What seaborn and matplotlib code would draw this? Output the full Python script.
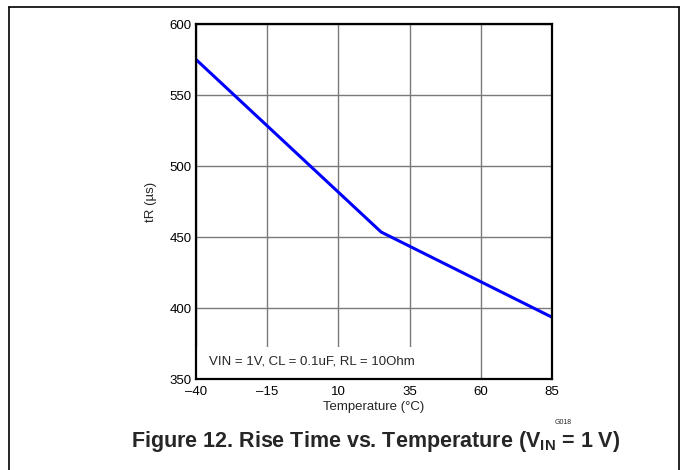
import numpy as np
import pandas as pd
import seaborn as sns
import matplotlib.pyplot as plt
from matplotlib.lines import Line2D
from matplotlib.patches import Rectangle

# data
temperature = [-40, 25, 85]
rise_time = [575, 453.5, 393.5]
x_ticks = [-40, -15, 10, 35, 60, 85]
y_ticks = [350, 400, 450, 500, 550, 600]

df = pd.DataFrame({'Temperature': temperature, 'tR': rise_time})

sns.set_theme(style="white")
plt.rcParams['font.family'] = ['Liberation Sans', 'DejaVu Sans']
plt.rcParams['axes.unicode_minus'] = True
plt.rcParams['mathtext.fontset'] = 'custom'
plt.rcParams['mathtext.rm'] = 'Liberation Sans'
plt.rcParams['mathtext.bf'] = 'Liberation Sans:bold'

fig = plt.figure(figsize=(6.83, 4.70), dpi=100)
ax = fig.add_axes([196 / 683, 91 / 470, 356 / 683, 355 / 470])

ax.set_axisbelow(True)
ax.grid(True, color='#7a7a7a', linewidth=1.0)

# white box behind the conditions text hides the grid
ax.add_patch(Rectangle((0, 0), 0.78, 0.09, transform=ax.transAxes,
                       facecolor='white', edgecolor='none', zorder=1))

sns.lineplot(data=df, x='Temperature', y='tR', ax=ax, color='#0000ff',
             linewidth=2.2, zorder=3)

ax.set_xlim(-40, 85)
ax.set_ylim(350, 600)
ax.set_xticks(x_ticks)
ax.set_yticks(y_ticks)
ax.set_xticklabels([str(t).replace('-', '\u2013') for t in x_ticks])
ax.tick_params(length=0, labelsize=9.5, colors='black')
ax.tick_params(axis='x', pad=5)
ax.tick_params(axis='y', pad=3)
ax.set_xlabel('Temperature (°C)', fontsize=9.5, labelpad=2)
ax.set_ylabel('tR (µs)', fontsize=9.5, labelpad=9)

for s in ax.spines.values():
    s.set_color('black')
    s.set_linewidth(1.6)
    s.set_zorder(4)

ax.text(0.036, 0.05, 'VIN = 1V, CL = 0.1uF, RL = 10Ohm', transform=ax.transAxes,
        fontsize=9.5, va='center', ha='left', zorder=5)

# page frame
fig.add_artist(Line2D([9 / 683, 9 / 683], [0, 1 - 7 / 470], color='black', linewidth=1.2))
fig.add_artist(Line2D([9 / 683, 679 / 683], [1 - 7 / 470, 1 - 7 / 470], color='black', linewidth=1.2))
fig.add_artist(Line2D([679 / 683, 679 / 683], [0, 1 - 7 / 470], color='black', linewidth=1.2))

fig.text(563 / 683, 1 - 422 / 470, 'G018', fontsize=5, ha='center', va='center')
fig.text(376 / 683, 1 - 442 / 470, r'Figure 12. Rise Time vs. Temperature (V$_{\mathbf{IN}}$ = 1 V)',
         fontsize=15.5, fontweight='bold', ha='center', va='center')

fig.savefig('out.png', dpi=100)
plt.close()
